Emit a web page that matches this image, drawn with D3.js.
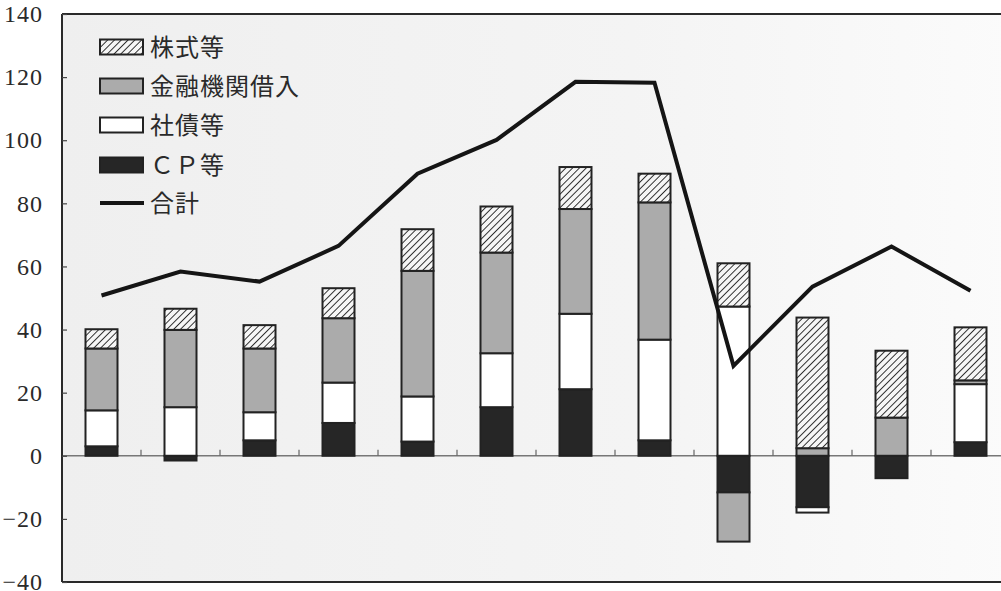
<!DOCTYPE html>
<html>
<head>
<meta charset="utf-8">
<script src="https://cdn.jsdelivr.net/npm/d3@7"></script>
<style>
  html, body { margin: 0; padding: 0; background: #ffffff; }
  svg { display: block; }
</style>
</head>
<body>
<svg id="chart" width="1001" height="591"></svg>
<script>
// Twelve periods (no axis labels are printed)
const categories = ["1", "2", "3", "4", "5", "6", "7", "8", "9", "10", "11", "12"];

// Components of funding, stacked per period
const cp      = [3.0, -1.5, 4.9, 10.4, 4.5, 15.4, 21.1, 4.9, -11.6, -16.3, -7.1, 4.3];   // CP等
const bonds   = [11.4, 15.4, 8.9, 12.8, 14.3, 17.1, 23.9, 31.9, 47.3, -1.7, 0, 18.4];   // 社債等
const loans   = [19.6, 24.5, 20.2, 20.4, 39.8, 31.9, 33.2, 43.5, -15.6, 2.4, 12.1, 1.2]; // 金融機関借入
const equity  = [6.1, 6.7, 7.4, 9.5, 13.2, 14.6, 13.3, 9.1, 13.7, 41.4, 21.2, 16.8];     // 株式等
const total   = [50.8, 58.4, 55.2, 66.5, 89.4, 100.1, 118.5, 118.2, 28.5, 53.6, 66.3, 52.3]; // 合計

const yTicks = [-40, -20, 0, 20, 40, 60, 80, 100, 120, 140];

const seriesKeys   = ["cp", "bonds", "loans", "equity"];
const seriesLabels = { equity: "株式等", loans: "金融機関借入", bonds: "社債等", cp: "ＣＰ等" };

const svg = d3.select("#chart");

const margin = { left: 62, top: 14, bottom: 582, right: 1010 };

const x = d3.scaleBand().domain(categories).range([margin.left, margin.right]).paddingInner(0).paddingOuter(0);
const y = d3.scaleLinear().domain([-40, 140]).range([margin.bottom, margin.top]);

const defs = svg.append("defs");
const hatch = defs.append("pattern")
  .attr("id", "hatch")
  .attr("patternUnits", "userSpaceOnUse")
  .attr("width", 4.8).attr("height", 4.8)
  .attr("patternTransform", "rotate(45)");
hatch.append("rect").attr("width", 4.8).attr("height", 4.8).attr("fill", "#f6f6f6");
hatch.append("line").attr("x1", 0).attr("y1", 0).attr("x2", 0).attr("y2", 4.8)
  .attr("stroke", "#2a2a2a").attr("stroke-width", 1.9);

const grad = defs.append("linearGradient").attr("id", "bg").attr("x1", "0").attr("x2", "1").attr("y1", "0").attr("y2", "0");
grad.append("stop").attr("offset", "0").attr("stop-color", "#efefef");
grad.append("stop").attr("offset", "0.6").attr("stop-color", "#f4f4f4");
grad.append("stop").attr("offset", "1").attr("stop-color", "#fbfbfb");

const fills = { equity: "url(#hatch)", loans: "#ababab", bonds: "#ffffff", cp: "#262626" };

// plot background
svg.append("rect")
  .attr("x", margin.left).attr("y", y(140))
  .attr("width", margin.right - margin.left).attr("height", y(-40) - y(140))
  .attr("fill", "url(#bg)");

// zero line
svg.append("line")
  .attr("x1", margin.left).attr("x2", margin.right)
  .attr("y1", y(0)).attr("y2", y(0))
  .attr("stroke", "#777").attr("stroke-width", 1.5);

// category separator ticks on the zero line
svg.append("g").selectAll("line")
  .data(categories.slice(1))
  .join("line")
  .attr("x1", d => x(d)).attr("x2", d => x(d))
  .attr("y1", y(0)).attr("y2", y(0) - 6)
  .attr("stroke", "#666").attr("stroke-width", 1.2);

// stacked bars
const rows = categories.map((c, i) => ({
  cat: c, cp: cp[i], bonds: bonds[i], loans: loans[i], equity: equity[i]
}));
const stacked = d3.stack().keys(seriesKeys).offset(d3.stackOffsetDiverging)(rows);

const barW = 32;
svg.append("g").selectAll("g")
  .data(stacked)
  .join("g")
  .attr("fill", d => fills[d.key])
  .selectAll("rect")
  .data(d => d.filter(s => s[1] !== s[0]))
  .join("rect")
  .attr("x", d => x(d.data.cat) + x.bandwidth() / 2 - barW / 2)
  .attr("y", d => y(Math.max(d[0], d[1])))
  .attr("width", barW)
  .attr("height", d => Math.abs(y(d[0]) - y(d[1])))
  .attr("stroke", "#222")
  .attr("stroke-width", 2);

// total line
const line = d3.line()
  .x((d, i) => x(categories[i]) + x.bandwidth() / 2)
  .y(d => y(d));
svg.append("path")
  .datum(total)
  .attr("d", line)
  .attr("fill", "none")
  .attr("stroke", "#151515")
  .attr("stroke-width", 4)
  .attr("stroke-linejoin", "miter");

// frame: left, top, bottom
const frame = svg.append("g").attr("stroke", "#2a2a2a").attr("stroke-width", 2).attr("fill", "none");
frame.append("line").attr("x1", margin.left).attr("x2", margin.left).attr("y1", y(140)).attr("y2", y(-40));
frame.append("line").attr("x1", margin.left).attr("x2", margin.right).attr("y1", y(140)).attr("y2", y(140));
frame.append("line").attr("x1", margin.left).attr("x2", margin.right).attr("y1", y(-40)).attr("y2", y(-40));

// y axis ticks (inward) and labels
const yAxis = d3.axisLeft(y).tickValues(yTicks).tickSize(-5).tickPadding(19)
  .tickFormat(d => d < 0 ? "\u2212" + Math.abs(d) : String(d));
const ya = svg.append("g").attr("transform", `translate(${margin.left},0)`).call(yAxis);
ya.select(".domain").remove();
ya.selectAll(".tick line").attr("stroke", "#444").attr("stroke-width", 1.2);
ya.selectAll(".tick text")
  .attr("fill", "#2a2a2a")
  .attr("font-family", "'Liberation Serif', 'DejaVu Serif', serif")
  .attr("font-size", 24)
  .attr("letter-spacing", 1)
  .attr("dy", "0.32em");

// legend
const legendItems = ["equity", "loans", "bonds", "cp", "total"];
const lg = svg.append("g").attr("transform", "translate(100,0)");
const rowY = [47, 86, 125, 165, 203];
legendItems.forEach((k, i) => {
  const g = lg.append("g").attr("transform", `translate(0,${rowY[i]})`);
  if (k === "total") {
    g.append("line").attr("x1", 0).attr("x2", 44).attr("y1", 0).attr("y2", 0)
      .attr("stroke", "#151515").attr("stroke-width", 4);
  } else {
    g.append("rect").attr("x", 0).attr("y", -7.5).attr("width", 43).attr("height", 15)
      .attr("fill", fills[k]).attr("stroke", "#222").attr("stroke-width", 2);
  }
  g.append("text")
    .attr("x", 50).attr("y", 0).attr("dy", "0.36em")
    .attr("font-family", "'Noto Sans CJK JP', sans-serif")
    .attr("font-size", 24)
    .attr("letter-spacing", 1)
    .attr("fill", "#2a2a2a")
    .text(k === "total" ? "合計" : seriesLabels[k]);
});
</script>
</body>
</html>
